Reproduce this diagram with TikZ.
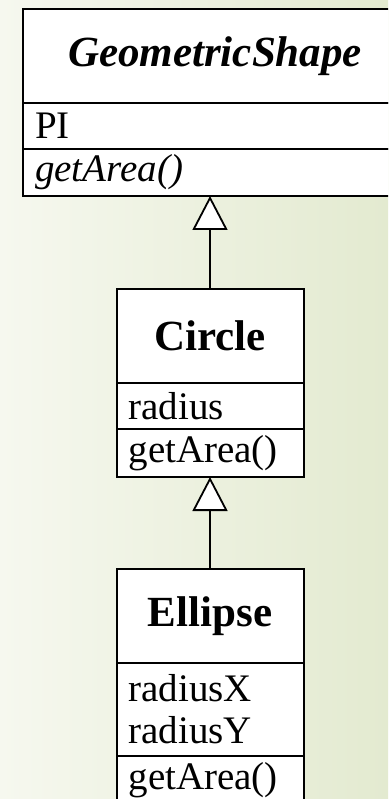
\documentclass[tikz,border=0pt]{standalone}
\usepackage{fontspec}
\setmainfont{Liberation Serif}
\usetikzlibrary{positioning,arrows.meta}

\definecolor{bgleft}{RGB}{246,248,239}
\definecolor{bgright}{RGB}{227,234,208}

\begin{document}
\begin{tikzpicture}
            [x=1pt, y=-1pt,
             classname/.style={draw, line width=2pt, fill=white, outer sep=0pt,
               inner xsep=12pt, inner ysep=0pt, minimum height=94pt,
               text width=#1, align=center, font=\fontsize{43}{48}\selectfont\bfseries},
             member/.style={draw, line width=2pt, fill=white, outer sep=0pt,
               inner xsep=12pt, inner ysep=0pt, minimum height=46pt,
               text width=#1, align=left, font=\fontsize{39}{42}\selectfont},
             inherit/.style={line width=1.8pt, -{Triangle[length=34pt, width=35pt, fill=white]}}]
            % Background and frame
            \useasboundingbox (0,0) rectangle (388,799);
            \fill[left color=bgleft, right color=bgright] (0,0) rectangle (388,799);
            \clip (0,0) rectangle (388,799);

            % Abstract base class
            \node[classname=360pt, anchor=north] (shape) at (215,9) {\itshape GeometricShape};
            \node[member=360pt, below=0pt of shape] (shapeattr) {PI};
            \node[member=360pt, minimum height=47pt, below=0pt of shapeattr] (shapeops) {\itshape getArea()};

            % Circle class
            \node[classname=163pt, anchor=north] (circle) at (210,289) {Circle};
            \node[member=163pt, below=0pt of circle] (circleattr) {radius};
            \node[member=163pt, minimum height=48pt, below=0pt of circleattr] (circleops) {getArea()};

            % Ellipse class
            \node[classname=163pt, anchor=north] (ellipse) at (210,569) {Ellipse};
            \node[member=163pt, minimum height=93pt, below=0pt of ellipse] (ellipseattr) {radiusX\\radiusY};
            \node[member=163pt, minimum height=48pt, below=0pt of ellipseattr] (ellipseops) {getArea()};

            % Draw arrows
            \draw[inherit] (circle.north) -- (circle.north |- shapeops.south);   % Circle to GeometricShape
            \draw[inherit] (ellipse.north) -- (circleops.south);                % Ellipse to Circle
        \end{tikzpicture}
\end{document}
